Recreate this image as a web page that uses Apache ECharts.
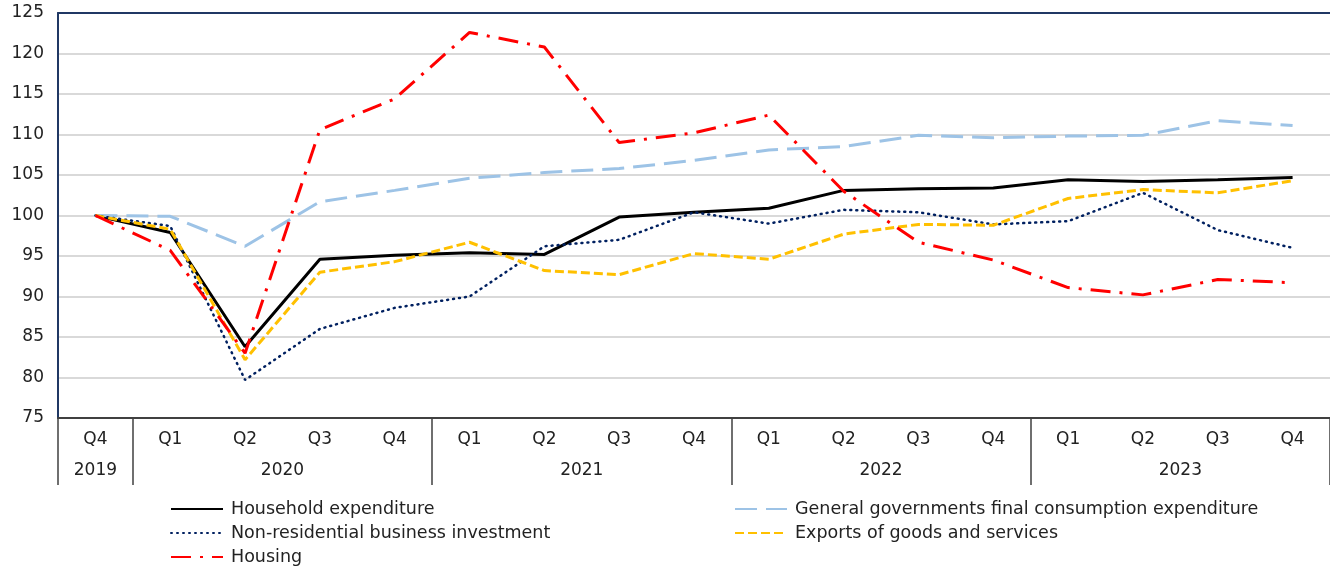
<!DOCTYPE html>
<html>
<head>
<meta charset="utf-8">
<script src="https://cdn.jsdelivr.net/npm/echarts@6/dist/echarts.min.js"></script>
<style>
  html, body { margin: 0; padding: 0; background: #fff; }
  #main { width: 1330px; height: 567px; }
</style>
</head>
<body>
<div id="main"></div>
<script>
// quarters on the x axis, with the year groups below them
var quarters = ['Q4', 'Q1', 'Q2', 'Q3', 'Q4', 'Q1', 'Q2', 'Q3', 'Q4', 'Q1', 'Q2', 'Q3', 'Q4', 'Q1', 'Q2', 'Q3', 'Q4'];
var years = ['2019', '2020', '2021', '2022', '2023'];
var quartersPerYear = [1, 4, 4, 4, 4];

// index, Q4 2019 = 100
var household = [100, 97.9, 83.8, 94.6, 95.1, 95.4, 95.2, 99.8, 100.4, 100.9, 103.1, 103.3, 103.4, 104.4, 104.2, 104.4, 104.7];
var government = [100, 99.9, 96.2, 101.7, 103.1, 104.6, 105.3, 105.8, 106.8, 108.1, 108.5, 109.9, 109.6, 109.8, 109.9, 111.7, 111.1];
var business = [100, 98.7, 79.7, 86.0, 88.6, 90.0, 96.2, 97.0, 100.4, 99.0, 100.7, 100.4, 98.9, 99.3, 102.8, 98.2, 96.0];
var exportsGS = [100, 98.3, 82.2, 93.0, 94.3, 96.7, 93.2, 92.7, 95.3, 94.6, 97.7, 98.9, 98.8, 102.1, 103.2, 102.8, 104.3];
var housing = [100, 95.7, 83.0, 110.6, 114.4, 122.6, 120.8, 109.0, 110.2, 112.4, 103.0, 96.7, 94.5, 91.1, 90.2, 92.1, 91.7];

var names = [
  'Household expenditure',
  'General governments final consumption expenditure',
  'Non-residential business investment',
  'Exports of goods and services',
  'Housing'
];

// year row: half-quarter slots so labels can sit between quarters
var yearSlots = [];
for (var i = 0; i <= quarters.length * 2; i++) yearSlots.push('');
var yearBounds = {};
var pos = 0;
years.forEach(function (y, k) {
  yearBounds[pos * 2] = true;
  yearSlots[pos * 2 + quartersPerYear[k]] = y;
  pos += quartersPerYear[k];
});
yearBounds[pos * 2] = true;

var FONT = 'DejaVu Sans';
var chart = echarts.init(document.getElementById('main'));

function legendAt(name, left, top) {
  return {
    data: [name],
    left: left,
    top: top,
    itemWidth: 52,
    itemHeight: 14,
    padding: 0,
    itemStyle: { opacity: 0 },
    textStyle: { fontFamily: FONT, fontSize: 17.5, color: '#222', padding: [0, 0, 0, 3] }
  };
}

var option = {
  animation: false,
  textStyle: { fontFamily: FONT },
  grid: { left: 58, right: 0, top: 13, bottom: 149 },
  legend: [
    legendAt(names[0], 170, 500),
    legendAt(names[1], 734, 500),
    legendAt(names[2], 170, 524),
    legendAt(names[3], 734, 524),
    legendAt(names[4], 170, 548)
  ],
  xAxis: [
    {
      type: 'category',
      data: quarters,
      boundaryGap: true,
      axisLine: { lineStyle: { color: '#404040', width: 2 } },
      axisTick: { inside: true, alignWithLabel: true, length: 5, lineStyle: { color: '#404040', width: 1.5 } },
      axisLabel: { fontFamily: FONT, fontSize: 17, color: '#222', margin: 13 }
    },
    {
      type: 'category',
      data: yearSlots,
      boundaryGap: false,
      position: 'bottom',
      axisLine: { show: false },
      axisTick: {
        length: 67,
        interval: function (idx) { return !!yearBounds[idx]; },
        lineStyle: { color: '#404040', width: 1.5 }
      },
      axisLabel: {
        fontFamily: FONT, fontSize: 17, color: '#222', margin: 44,
        interval: function (idx, val) { return val !== ''; }
      },
      splitLine: { show: false }
    },
    {
      type: 'category',
      data: quarters,
      position: 'top',
      axisLine: { lineStyle: { color: '#203864', width: 2 } },
      axisTick: { show: false },
      axisLabel: { show: false }
    }
  ],
  yAxis: {
    type: 'value',
    min: 75,
    max: 125,
    interval: 5,
    axisLine: { show: true, lineStyle: { color: '#203864', width: 2 } },
    axisTick: { show: false },
    axisLabel: { fontFamily: FONT, fontSize: 17, color: '#222', margin: 14 },
    splitLine: { lineStyle: { color: '#d9d9d9', width: 2 } }
  },
  series: [
    {
      name: names[0], type: 'line', data: household, symbol: 'none',
      lineStyle: { color: '#000000', width: 3 }, itemStyle: { color: '#000000' }
    },
    {
      name: names[1], type: 'line', data: government, symbol: 'none',
      lineStyle: { color: '#9dc3e6', width: 3, type: [22, 9] }, itemStyle: { color: '#9dc3e6' }
    },
    {
      name: names[2], type: 'line', data: business, symbol: 'none',
      lineStyle: { color: '#002060', width: 2.5, type: [1, 5], cap: 'round' }, itemStyle: { color: '#002060' }
    },
    {
      name: names[3], type: 'line', data: exportsGS, symbol: 'none',
      lineStyle: { color: '#ffc000', width: 3, type: [9, 4] }, itemStyle: { color: '#ffc000' }
    },
    {
      name: names[4], type: 'line', data: housing, symbol: 'none',
      lineStyle: { color: '#ff0000', width: 3, type: [20, 9, 3, 9] }, itemStyle: { color: '#ff0000' }
    }
  ]
};

chart.setOption(option);
</script>
</body>
</html>
